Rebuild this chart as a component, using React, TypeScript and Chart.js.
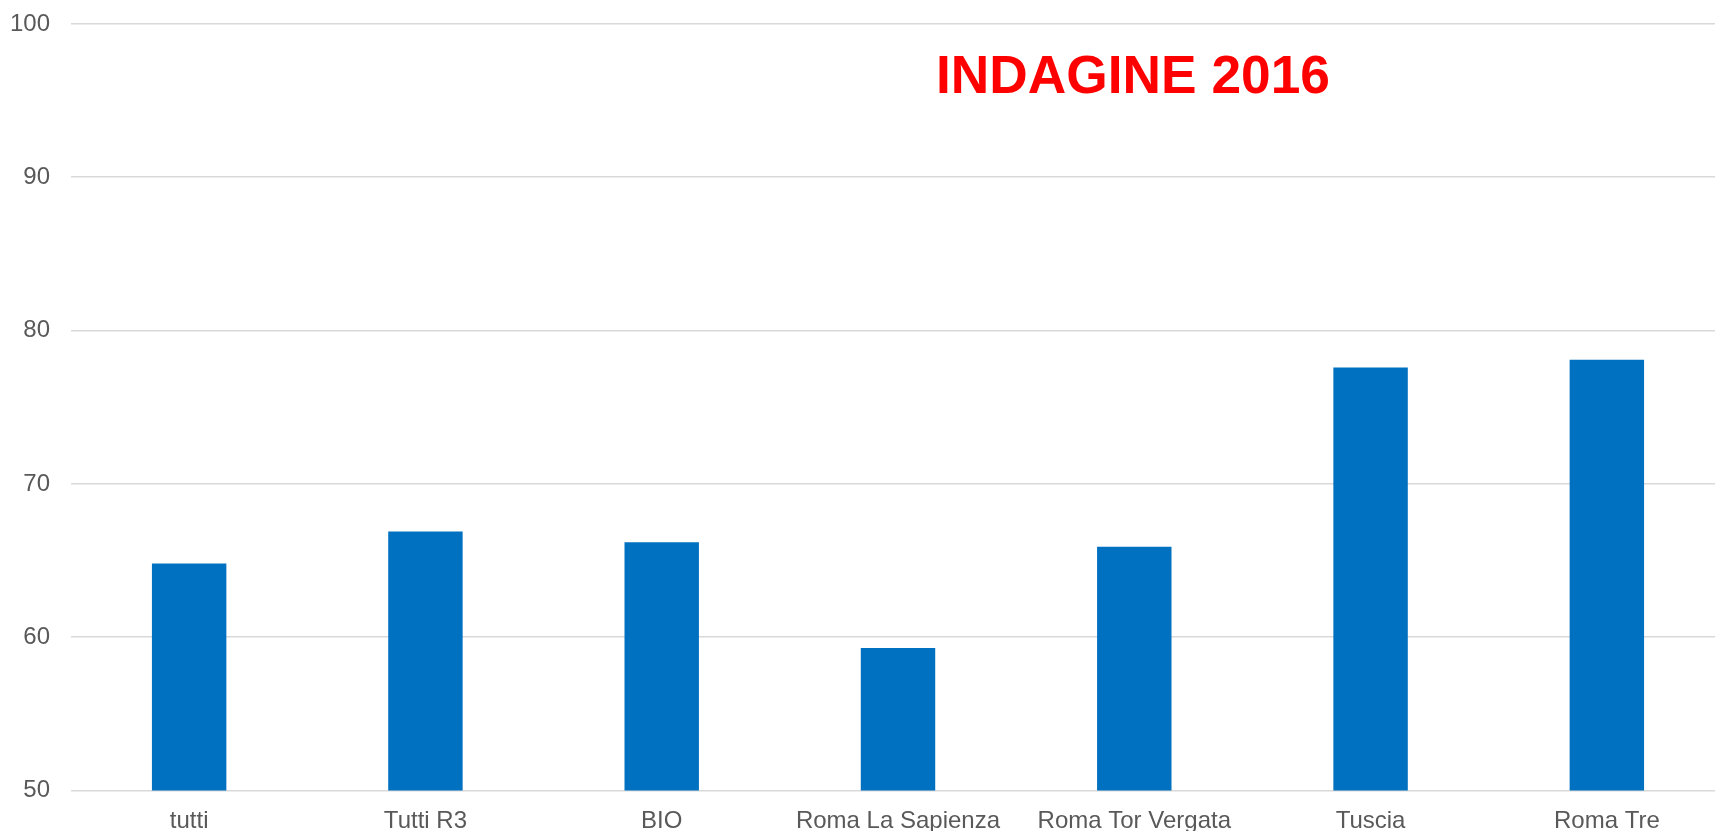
import React, { useEffect, useRef } from "react";
import { Chart, registerables } from "chart.js";

Chart.register(...registerables);

const categories = [
  "tutti",
  "Tutti R3",
  "BIO",
  "Roma La Sapienza",
  "Roma Tor Vergata",
  "Tuscia",
  "Roma Tre",
];
const values = [64.8, 66.9, 66.2, 59.3, 65.9, 77.6, 78.1];
const yTicks = [50, 60, 70, 80, 90, 100];
const titleText = "INDAGINE 2016";

export default function App() {
  const ref = useRef<HTMLCanvasElement | null>(null);

  useEffect(() => {
    document.body.style.overflow = "hidden";
    const canvas = ref.current;
    if (!canvas) return;
    const chart = new Chart(canvas, {
      type: "bar",
      data: {
        labels: categories,
        datasets: [
          {
            data: values,
            backgroundColor: "#0070C0",
            borderWidth: 0,
            barPercentage: 0.315,
            categoryPercentage: 1,
          },
        ],
      },
      options: {
        responsive: false,
        animation: false,
        layout: { padding: { top: 24, left: 0, right: 0, bottom: 0 } },
        plugins: {
          legend: { display: false },
          title: { display: false },
          tooltip: { enabled: false },
        },
        scales: {
          x: {
            grid: { display: false, drawTicks: false },
            border: { display: false },
            ticks: {
              color: "#595959",
              font: { family: "'Liberation Sans', Arial, sans-serif", size: 24 },
              padding: 16,
              maxRotation: 0,
              autoSkip: false,
            },
            afterFit: (scale: any) => {
              scale.height = 40.5;
            },
          },
          y: {
            min: yTicks[0],
            max: yTicks[yTicks.length - 1],
            afterBuildTicks: (scale: any) => {
              scale.ticks = yTicks.map((v) => ({ value: v }));
            },
            grid: { color: "#d9d9d9", lineWidth: 1.6, drawTicks: false },
            border: { display: false },
            ticks: {
              color: "#595959",
              font: { family: "'Liberation Sans', Arial, sans-serif", size: 24 },
              padding: 21,
            },
            afterFit: (scale: any) => {
              scale.width = 71;
              scale.paddingTop = 0;
              scale.paddingBottom = 0;
            },
          },
        },
      },
    });
    return () => chart.destroy();
  }, []);

  return (
    <div
      style={{
        position: "fixed",
        left: 0,
        top: 0,
        width: 1740,
        height: 831,
        overflow: "hidden",
        background: "#fff",
      }}
    >
      <canvas ref={ref} width={1725} height={831} style={{ display: "block" }} />
      <div
        style={{
          position: "absolute",
          left: 936,
          top: 48,
          fontFamily: "'Liberation Sans', Arial, sans-serif",
          fontWeight: "bold",
          fontSize: 53.3,
          lineHeight: 1,
          color: "#FF0000",
          whiteSpace: "nowrap",
        }}
      >
        {titleText}
      </div>
    </div>
  );
}
